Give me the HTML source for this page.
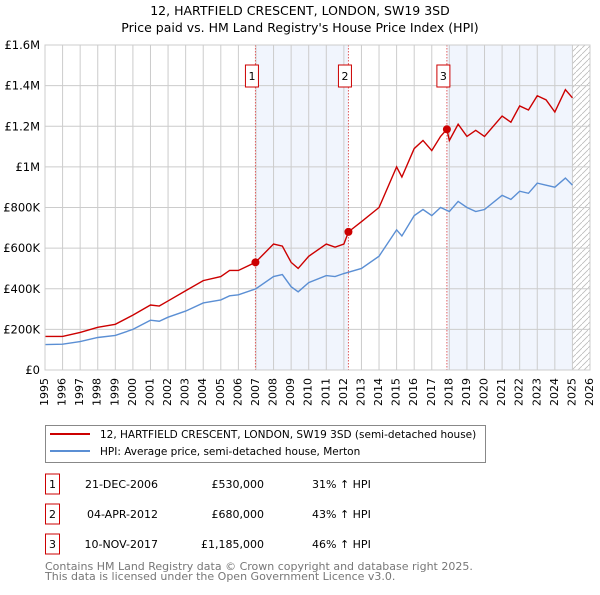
<!DOCTYPE html>
<html><head><meta charset="utf-8"><style>
body{margin:0;background:#fff;font-family:"Liberation Sans","DejaVu Sans",sans-serif;}
svg text{font-family:"DejaVu Sans","Liberation Sans",sans-serif;}
</style></head><body>
<svg id="c" width="600" height="590" xmlns="http://www.w3.org/2000/svg">
<text x="300" y="15" text-anchor="middle" font-size="12.5">12, HARTFIELD CRESCENT, LONDON, SW19 3SD</text>
<text x="300" y="32" text-anchor="middle" font-size="12.5">Price paid vs. HM Land Registry's House Price Index (HPI)</text>
<g id="plot"></g>
<g>
<rect x="45.5" y="425.5" width="440" height="37" fill="#fff" stroke="#888"/>
<line x1="50" y1="434" x2="90" y2="434" stroke="#cc0000" stroke-width="2"/>
<text x="100" y="438" font-size="10.5">12, HARTFIELD CRESCENT, LONDON, SW19 3SD (semi-detached house)</text>
<line x1="50" y1="451" x2="90" y2="451" stroke="#5b8fd4" stroke-width="2"/>
<text x="100" y="455" font-size="10.5">HPI: Average price, semi-detached house, Merton</text>
</g>
<g id="tbl" font-size="11"></g>
<text x="45" y="570" font-size="11" fill="#777">Contains HM Land Registry data © Crown copyright and database right 2025.</text>
<text x="45" y="580" font-size="11" fill="#777">This data is licensed under the Open Government Licence v3.0.</text>
</svg>
<script>
const yTicks=[0,200000,400000,600000,800000,1000000,1200000,1400000,1600000];
const yTickLabels=["£0","£200K","£400K","£600K","£800K","£1M","£1.2M","£1.4M","£1.6M"];
const years=[1995,1996,1997,1998,1999,2000,2001,2002,2003,2004,2005,2006,2007,2008,2009,2010,2011,2012,2013,2014,2015,2016,2017,2018,2019,2020,2021,2022,2023,2024,2025,2026];
const hpiDates=[1995,1996,1997,1998,1999,2000,2001,2001.5,2002,2003,2004,2005,2005.5,2006,2007,2008,2008.5,2009,2009.4,2010,2011,2011.5,2012,2013,2014,2015,2015.3,2016,2016.5,2017,2017.5,2018,2018.5,2019,2019.5,2020,2021,2021.5,2022,2022.5,2023,2023.5,2024,2024.6,2025];
const hpiValues=[125000,127000,140000,160000,170000,200000,245000,240000,260000,290000,330000,345000,365000,370000,400000,460000,470000,410000,385000,430000,465000,460000,475000,500000,560000,690000,660000,760000,790000,760000,800000,780000,830000,800000,780000,790000,860000,840000,880000,870000,920000,910000,900000,945000,910000];
const priceDates=[1995,1996,1997,1998,1999,2000,2001,2001.5,2002,2003,2004,2005,2005.5,2006,2006.97,2008,2008.5,2009,2009.4,2010,2011,2011.5,2012,2012.26,2013,2014,2015,2015.3,2016,2016.5,2017,2017.5,2017.86,2018,2018.5,2019,2019.5,2020,2021,2021.5,2022,2022.5,2023,2023.5,2024,2024.6,2025];
const priceValues=[165000,165000,185000,210000,225000,270000,320000,315000,340000,390000,440000,460000,490000,490000,530000,620000,610000,530000,500000,560000,620000,605000,620000,680000,730000,800000,1000000,950000,1090000,1130000,1080000,1150000,1185000,1130000,1210000,1150000,1180000,1150000,1250000,1220000,1300000,1280000,1350000,1330000,1270000,1380000,1340000];
const saleDates=[2006.97,2012.26,2017.86];
const saleValues=[530000,680000,1185000];
const saleLabels=["1","2","3"];
const saleDateText=["21-DEC-2006","04-APR-2012","10-NOV-2017"];
const salePriceText=["£530,000","£680,000","£1,185,000"];
const saleHpiText=["31% ↑ HPI","43% ↑ HPI","46% ↑ HPI"];

const L=45,R=590,T=45,B=370,x0=1995,x1=2026,ymax=1600000;
const X=d=>L+(d-x0)/(x1-x0)*(R-L);
const Y=v=>B-v/ymax*(B-T);
const NS="http://www.w3.org/2000/svg";
const g=document.getElementById('plot');
function mk(t,a,p){const e=document.createElementNS(NS,t);for(const k in a)e.setAttribute(k,a[k]);(p||g).appendChild(e);return e;}
[[saleDates[0],saleDates[1]],[saleDates[2],2025]].forEach((s,i)=>{
const r=mk('rect',{x:X(s[0]),y:T,width:X(s[1])-X(s[0]),height:B-T,fill:'#eef3fc',opacity:0.8});


});
const defs=mk('defs',{});
const pat=mk('pattern',{id:'h',width:6,height:6,patternUnits:'userSpaceOnUse'},defs);
mk('path',{d:'M0,6 L6,0',stroke:'#bbb','stroke-width':0.8},pat);
const hr=mk('rect',{x:X(2025),y:T,width:R-X(2025),height:B-T,fill:'url(#h)'});


years.forEach(yr=>{
mk('line',{x1:X(yr),x2:X(yr),y1:T,y2:B,stroke:'#ccc','stroke-width':1});
const t=mk('text',{x:X(yr),y:B+8,'font-size':11,'text-anchor':'end',transform:`rotate(-90 ${X(yr)} ${B+8})`,'dominant-baseline':'middle'});
t.textContent=yr;


});
yTicks.forEach((v,i)=>{
mk('line',{x1:L,x2:R,y1:Y(v),y2:Y(v),stroke:'#ccc','stroke-width':1});
const t=mk('text',{x:L-5,y:Y(v)+4,'font-size':11.5,'text-anchor':'end'});
t.textContent=yTickLabels[i];


});
saleDates.forEach((d,i)=>{
const l=mk('line',{x1:X(d),x2:X(d),y1:T,y2:B,stroke:'#e06060','stroke-dasharray':'1.5,1.5','stroke-width':1});


const bx=X(d)-10;
const r=mk('rect',{x:bx,y:65,width:13,height:22,fill:'#fff',stroke:'#cc0000'});


const t=mk('text',{x:bx+6.5,y:80,'font-size':11,'text-anchor':'middle'});t.textContent=saleLabels[i];
});
function line(ds,vs,col,name){
const p=mk('polyline',{points:ds.map((d,i)=>X(d)+','+Y(vs[i])).join(' '),fill:'none',stroke:col,'stroke-width':1.4});


}
line(hpiDates,hpiValues,'#5b8fd4','hpi-line');
line(priceDates,priceValues,'#cc0000','price-line');
saleDates.forEach((d,i)=>{
const c=mk('circle',{cx:X(d),cy:Y(saleValues[i]),r:4,fill:'#cc0000'});


});
mk('rect',{x:L,y:T,width:R-L,height:B-T,fill:'none',stroke:'#ccc'});
const tb=document.getElementById('tbl');
saleLabels.forEach((s,i)=>{
const y=474+i*30;
const r=mk('rect',{x:45.5,y:y,width:14,height:20,fill:'#fff',stroke:'#cc0000'},tb);


const a=mk('text',{x:52.5,y:y+14,'text-anchor':'middle'},tb);a.textContent=s;
const b=mk('text',{x:158,y:y+14,'text-anchor':'end'},tb);b.textContent=saleDateText[i];
const c=mk('text',{x:264,y:y+14,'text-anchor':'end'},tb);c.textContent=salePriceText[i];
const e=mk('text',{x:312,y:y+14},tb);e.textContent=saleHpiText[i];
});
</script>
</body></html>
